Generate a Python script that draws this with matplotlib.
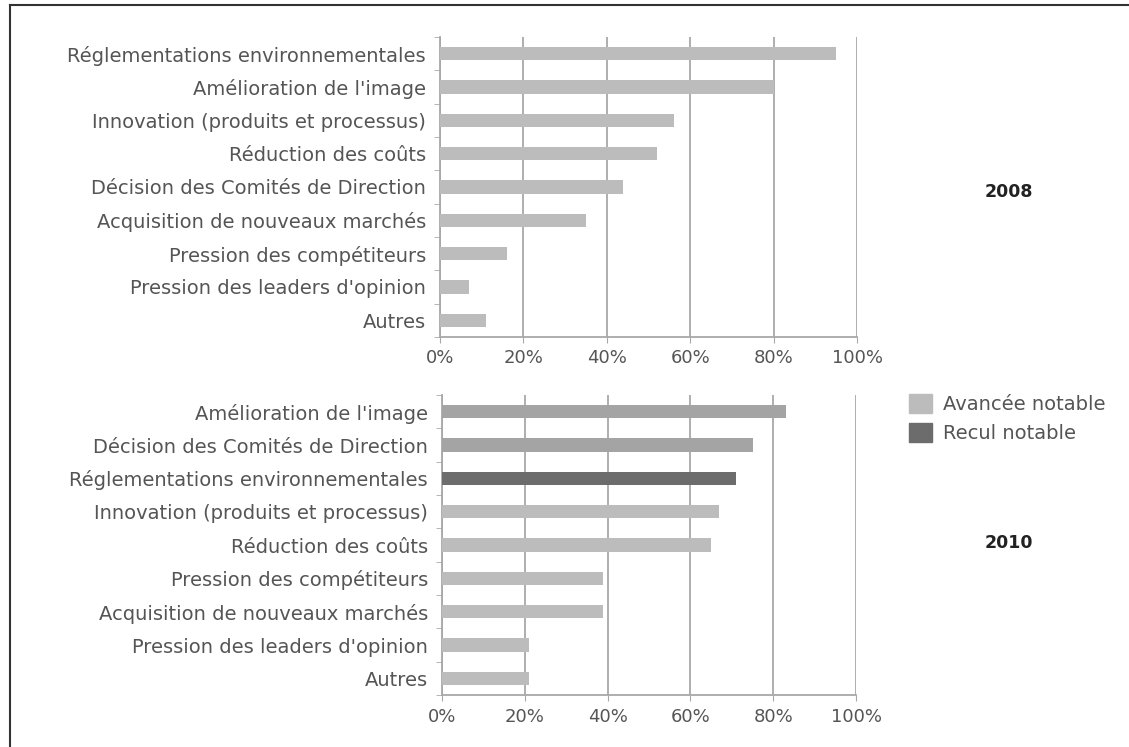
import matplotlib.pyplot as plt
import numpy as np

# motivations et pourcentages (2008 / 2010)
cats_2008 = ['Réglementations environnementales', "Amélioration de l'image",
             'Innovation (produits et processus)', 'Réduction des coûts',
             'Décision des Comités de Direction', 'Acquisition de nouveaux marchés',
             'Pression des compétiteurs', "Pression des leaders d'opinion", 'Autres']
vals_2008 = [95, 80, 56, 52, 44, 35, 16, 7, 11]

cats_2010 = ["Amélioration de l'image", 'Décision des Comités de Direction',
             'Réglementations environnementales', 'Innovation (produits et processus)',
             'Réduction des coûts', 'Pression des compétiteurs',
             'Acquisition de nouveaux marchés', "Pression des leaders d'opinion", 'Autres']
vals_2010 = [83, 75, 71, 67, 65, 39, 39, 21, 21]
# 1 = avancée notable, -1 = recul notable, 0 = sans changement
trend_2010 = [1, 1, -1, 0, 0, 0, 0, 0, 0]

xticks = [0, 20, 40, 60, 80, 100]

c_base = '#bcbcbc'
c_up = '#a4a4a4'
c_down = '#6c6c6c'
txt = '#555555'
grid_c = '#a8a8a8'

plt.rcParams['font.family'] = ['DejaVu Sans']

fig = plt.figure(figsize=(11.29, 7.47), dpi=100)

# cadre haut / gauche
fig.add_artist(plt.Line2D([0.009, 0.009], [0, 0.993], color='#333333', lw=1.5))
fig.add_artist(plt.Line2D([0.009, 1.0], [0.993, 0.993], color='#333333', lw=1.5))


def draw(ax, cats, vals, colors):
    y = np.arange(len(cats))
    ax.barh(y, vals, height=0.4, color=colors, zorder=3)
    ax.set_ylim(len(cats) - 0.5, -0.5)
    ax.set_xlim(0, 100)
    ax.set_yticks(y)
    ax.set_yticklabels(cats, fontsize=14, color=txt)
    ax.tick_params(axis='y', length=0, pad=10)
    ax.set_yticks(np.arange(len(cats) + 1) - 0.5, minor=True)
    ax.tick_params(axis='y', which='minor', length=4, color=grid_c)
    ax.set_xticks(xticks)
    ax.set_xticklabels([f'{v}%' for v in xticks], fontsize=13, color=txt)
    ax.tick_params(axis='x', length=4, color=grid_c, pad=5)
    ax.grid(axis='x', color=grid_c, lw=1.3, zorder=0)
    for s in ['top', 'right']:
        ax.spines[s].set_visible(False)
    for s in ['left', 'bottom']:
        ax.spines[s].set_color(grid_c)
        ax.spines[s].set_linewidth(1.3)


ax1 = fig.add_axes([0.3897, 0.549, 0.3694, 0.4016])
draw(ax1, cats_2008, vals_2008, [c_base] * len(vals_2008))

col_2010 = [c_up if t > 0 else c_down if t < 0 else c_base for t in trend_2010]
ax2 = fig.add_axes([0.3915, 0.0696, 0.3667, 0.4016])
draw(ax2, cats_2010, vals_2010, col_2010)

fig.text(0.894, 0.743, '2008', fontsize=12.5, fontweight='bold', color='#222222', ha='center', va='center')
fig.text(0.894, 0.273, '2010', fontsize=12.5, fontweight='bold', color='#222222', ha='center', va='center')

h = [plt.Rectangle((0, 0), 1, 1, color=c_base), plt.Rectangle((0, 0), 1, 1, color=c_down)]
fig.legend(h, ['Avancée notable', 'Recul notable'], loc='center left',
           bbox_to_anchor=(0.79, 0.44), frameon=False, fontsize=14,
           labelcolor=txt, handlelength=1.15, handleheight=1.15, handletextpad=0.6,
           labelspacing=0.45)

fig.savefig('out.png', dpi=100, facecolor='white')
